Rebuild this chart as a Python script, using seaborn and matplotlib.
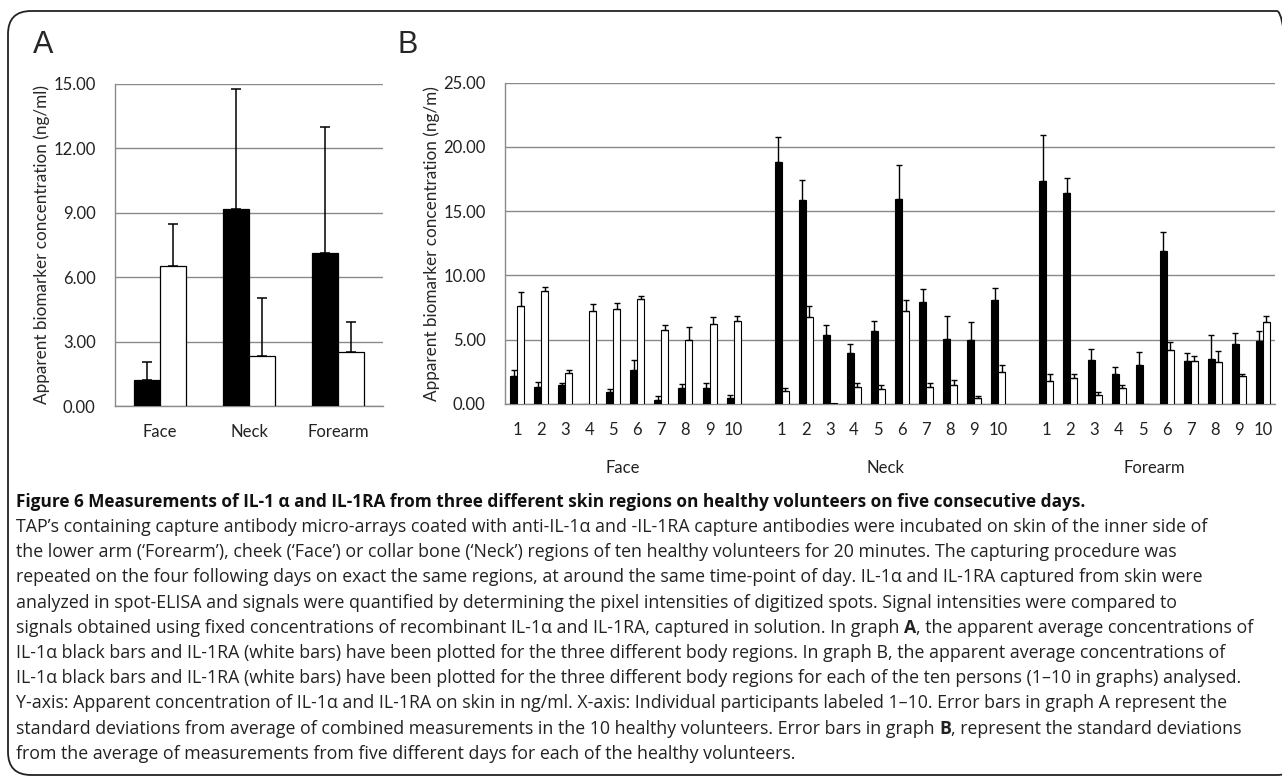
import numpy as np
import pandas as pd
import matplotlib
matplotlib.use("Agg")
import matplotlib.pyplot as plt
import matplotlib.transforms as mtransforms
from matplotlib.patches import FancyBboxPatch
from matplotlib.ticker import FixedLocator, StrMethodFormatter
import seaborn as sns

# ---------------- data ----------------
regions = ["Face", "Neck", "Forearm"]
markers = ["IL-1α", "IL-1RA"]
participants = [str(i) for i in range(1, 11)]

# Panel A: mean and SD over the 10 volunteers
a_il1a_mean = [1.21, 9.19, 7.15]
a_il1a_sd = [0.86, 5.58, 5.86]
a_il1ra_mean = [6.53, 2.33, 2.53]
a_il1ra_sd = [1.94, 2.72, 1.37]

# Panel B: per participant mean and SD over five days
face_il1a = [2.20, 1.32, 1.45, 0.00, 0.91, 2.62, 0.34, 1.24, 1.27, 0.47]
face_il1a_sd = [0.47, 0.39, 0.18, 0.00, 0.26, 0.77, 0.31, 0.31, 0.36, 0.26]
face_il1ra = [7.59, 8.76, 2.41, 7.20, 7.38, 8.16, 5.73, 5.00, 6.24, 6.48]
face_il1ra_sd = [1.11, 0.33, 0.26, 0.57, 0.47, 0.26, 0.38, 0.98, 0.52, 0.39]

neck_il1a = [18.81, 15.88, 5.34, 3.96, 5.65, 15.96, 7.93, 5.08, 4.95, 8.06]
neck_il1a_sd = [1.94, 1.56, 0.83, 0.73, 0.83, 2.64, 1.01, 1.73, 1.40, 0.96]
neck_il1ra = [1.04, 6.74, 0.05, 1.30, 1.17, 7.25, 1.30, 1.45, 0.47, 2.49]
neck_il1ra_sd = [0.20, 0.90, 0.00, 0.33, 0.28, 0.86, 0.33, 0.44, 0.18, 0.57]

forearm_il1a = [17.38, 16.45, 3.39, 2.36, 3.06, 11.94, 3.37, 3.52, 4.66, 4.87]
forearm_il1a_sd = [3.55, 1.11, 0.88, 0.49, 0.98, 1.45, 0.59, 1.87, 0.86, 0.78]
forearm_il1ra = [1.76, 2.02, 0.73, 1.24, 0.00, 4.22, 3.37, 3.26, 2.20, 6.37]
forearm_il1ra_sd = [0.57, 0.31, 0.18, 0.21, 0.00, 0.60, 0.39, 0.83, 0.13, 0.50]

title_text = ("Figure 6 Measurements of IL-1 α and IL-1RA from three different "
              "skin regions on healthy volunteers on five consecutive days.")
caption_lines = [
    [("TAP’s containing capture antibody micro-arrays coated with anti-IL-1α and -IL-1RA capture antibodies were incubated on skin of the inner side of", False)],
    [("the lower arm (‘Forearm’), cheek (‘Face’) or collar bone (‘Neck’) regions of ten healthy volunteers for 20 minutes. The capturing procedure was", False)],
    [("repeated on the four following days on exact the same regions, at around the same time-point of day. IL-1α and IL-1RA captured from skin were", False)],
    [("analyzed in spot-ELISA and signals were quantified by determining the pixel intensities of digitized spots. Signal intensities were compared to", False)],
    [("signals obtained using fixed concentrations of recombinant IL-1α and IL-1RA, captured in solution. In graph ", False),
     ("A", True), (", the apparent average concentrations of", False)],
    [("IL-1α black bars and IL-1RA (white bars) have been plotted for the three different body regions. In graph B, the apparent average concentrations of", False)],
    [("IL-1α black bars and IL-1RA (white bars) have been plotted for the three different body regions for each of the ten persons (1–10 in graphs) analysed.", False)],
    [("Y-axis: Apparent concentration of IL-1α and IL-1RA on skin in ng/ml. X-axis: Individual participants labeled 1–10. Error bars in graph A represent the", False)],
    [("standard deviations from average of combined measurements in the 10 healthy volunteers. Error bars in graph ", False),
     ("B", True), (", represent the standard deviations", False)],
    [("from the average of measurements from five different days for each of the healthy volunteers.", False)],
]

# ---------------- tables ----------------
dfA = pd.DataFrame({
    "region": regions * 2,
    "marker": [markers[0]] * 3 + [markers[1]] * 3,
    "value": a_il1a_mean + a_il1ra_mean,
    "sd": a_il1a_sd + a_il1ra_sd,
})

rows = []
for reg, m1, s1, m2, s2 in [("Face", face_il1a, face_il1a_sd, face_il1ra, face_il1ra_sd),
                            ("Neck", neck_il1a, neck_il1a_sd, neck_il1ra, neck_il1ra_sd),
                            ("Forearm", forearm_il1a, forearm_il1a_sd, forearm_il1ra, forearm_il1ra_sd)]:
    for p, a, sa, b, sb in zip(participants, m1, s1, m2, s2):
        rows.append((f"{reg} {p}", markers[0], a, sa))
        rows.append((f"{reg} {p}", markers[1], b, sb))
dfB = pd.DataFrame(rows, columns=["slot", "marker", "value", "sd"])

orderB = ([f"Face {p}" for p in participants] + ["gap1"] +
          [f"Neck {p}" for p in participants] + ["gap2"] +
          [f"Forearm {p}" for p in participants])
tick_labelsB = [("" if s.startswith("gap") else s.split()[-1]) for s in orderB]

# ---------------- figure ----------------
W, H = 1282, 778
sns.set_style("white")
plt.rcParams["font.family"] = ["Lato", "DejaVu Sans"]
fig = plt.figure(figsize=(W / 100, H / 100), dpi=100)

def fx(px):
    return px / W

def fy(py):
    return 1 - py / H

# border
border = FancyBboxPatch((fx(8), fy(775)), fx(1300 - 8), fy(11) - fy(775),
                        boxstyle="round,pad=0,rounding_size=0.018",
                        transform=fig.transFigure, fill=False,
                        edgecolor="#222222", linewidth=1.3, mutation_aspect=W / H)
fig.patches.append(border)

axA = fig.add_axes([fx(115), fy(406), fx(383 - 115), fy(84) - fy(406)])
axB = fig.add_axes([fx(505), fy(404), fx(1275 - 505), fy(82.7) - fy(404)])

palette = {markers[0]: "black", markers[1]: "white"}
grid_col = "#8a8a8a"

def add_errors(ax, df, keycol, order, capsize, lw):
    lookup = {(r[keycol], r["marker"]): r["sd"] for _, r in df.iterrows()}
    for cont, mk in zip(ax.containers, markers):
        xs, hs, es = [], [], []
        for bar in cont:
            xc = bar.get_x() + bar.get_width() / 2
            h = bar.get_height()
            key = order[int(round(xc))]
            sd = lookup.get((key, mk), 0.0)
            if sd > 0:
                xs.append(xc); hs.append(h); es.append(sd)
        ax.errorbar(xs, hs, yerr=[np.zeros(len(es)), es], fmt="none",
                    ecolor="black", elinewidth=lw, capsize=capsize,
                    capthick=lw, zorder=5)

def style_axes(ax, n, ymax, ystep, label, label_x):
    ax.set_xlim(-0.5, n - 0.5)
    ax.set_ylim(0, ymax)
    ax.set_yticks(np.arange(0, ymax + 0.01, ystep))
    ax.yaxis.set_major_formatter(StrMethodFormatter("{x:.2f}"))
    ax.set_xlabel("")
    ax.set_ylabel(label, fontsize=12.3)
    ax.yaxis.set_label_coords(label_x, 0.5)
    for s in ["top", "right"]:
        ax.spines[s].set_visible(False)
    for s in ["left", "bottom"]:
        ax.spines[s].set_color(grid_col)
        ax.spines[s].set_linewidth(1.0)
    ax.yaxis.grid(True, color=grid_col, linewidth=1.0)
    ax.set_axisbelow(True)
    ax.tick_params(axis="y", length=0, pad=14, labelsize=12, colors="#222222")
    ax.tick_params(axis="x", which="major", length=0, pad=13, labelsize=12, colors="#222222")
    ax.xaxis.set_minor_locator(FixedLocator(np.arange(-0.5, n, 1.0)))
    ax.tick_params(axis="x", which="minor", length=4, width=0.8, color=grid_col, direction="out")

# Panel A
sns.barplot(data=dfA, x="region", y="value", hue="marker", order=regions,
            hue_order=markers, palette=palette, edgecolor="black", linewidth=0.9,
            width=0.58, errorbar=None, legend=False, ax=axA, zorder=3)
style_axes(axA, 3, 15, 3, "Apparent biomarker concentration (ng/ml)", (50 - 115) / 268)
add_errors(axA, dfA, "region", regions, 3.5, 1.1)

# Panel B
sns.barplot(data=dfB, x="slot", y="value", hue="marker", order=orderB,
            hue_order=markers, palette=palette, edgecolor="black", linewidth=0.8,
            width=0.58, errorbar=None, legend=False, ax=axB, zorder=3)
style_axes(axB, len(orderB), 25, 5, "Apparent biomarker concentration (ng/m)", (440 - 505) / 770)
axB.set_xticks(range(len(orderB)))
axB.set_xticklabels(tick_labelsB)
add_errors(axB, dfB, "slot", orderB, 2.2, 1.0)

# region labels under panel B
trans = mtransforms.blended_transform_factory(axB.transData, fig.transFigure)
for reg, xpos in zip(regions, [4.4, 15.3, 26.5]):
    axB.text(xpos, fy(468), reg, transform=trans, ha="center", va="center",
             fontsize=12, color="#222222")

# panel letters
fig.text(fx(33), fy(53), "A", fontsize=22, family="Liberation Sans", ha="left", va="baseline")
fig.text(fx(398), fy(53), "B", fontsize=22, family="Liberation Sans", ha="left", va="baseline")

# caption
cap_family = ["Open Sans", "DejaVu Sans"]
title = fig.text(fx(16), fy(507), title_text, fontsize=12, fontweight="bold",
                 family=cap_family, ha="left", va="baseline", color="#111111")
cap_texts = []
lines_texts = []
base_y = 532
for i, pieces in enumerate(caption_lines):
    yb = base_y + i * 25.2
    prev = None
    this_line = []
    for txt, bold in pieces:
        t = fig.text(fx(16), fy(yb), txt, fontsize=11, family=cap_family,
                     fontweight="bold" if bold else "normal",
                     ha="left", va="baseline", color="#222222")
        t._chain_prev = prev
        cap_texts.append(t)
        this_line.append(t)
        prev = t
    lines_texts.append(this_line)

def chain(renderer):
    for t in cap_texts:
        if t._chain_prev is not None:
            pb = t._chain_prev.get_window_extent(renderer)
            px, py = t.get_position()
            t.set_position((pb.x1 / W, py))

# fit caption widths so the longest line ends near x = 1250
fig.canvas.draw()
r = fig.canvas.get_renderer()
chain(r)
fig.canvas.draw()
maxw = max(sum(t.get_window_extent(r).width for t in ln) for ln in lines_texts)
scale = (1250 - 16) / maxw
for t in cap_texts:
    t.set_fontsize(11 * scale)
wt = title.get_window_extent(r).width
title.set_fontsize(12 * (1082 - 16) / wt)

fig.canvas.draw()
r = fig.canvas.get_renderer()
chain(r)

fig.savefig("out.png", dpi=100)
